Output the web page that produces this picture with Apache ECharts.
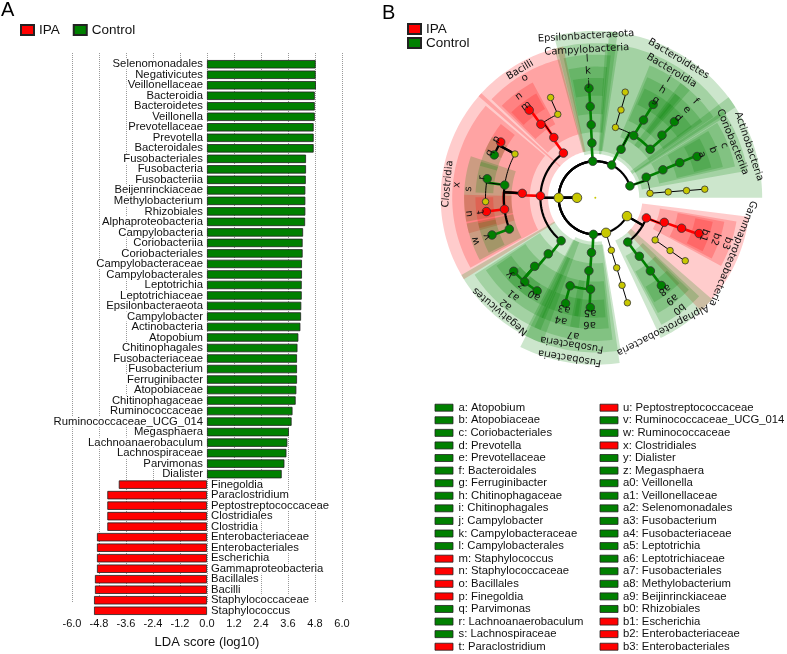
<!DOCTYPE html>
<html><head><meta charset="utf-8">
<script src="https://cdn.jsdelivr.net/npm/echarts@6/dist/echarts.min.js"></script>
<style>html,body{margin:0;padding:0;background:#fff}#c{width:787px;height:654px}</style>
</head><body><div id="c"></div>
<script>
// ---------- Panel A data ----------
const controlTaxa = ['Selenomonadales','Negativicutes','Veillonellaceae','Bacteroidia','Bacteroidetes','Veillonella','Prevotellaceae','Prevotella','Bacteroidales','Fusobacteriales','Fusobacteria','Fusobacteriia','Beijenrinckiaceae','Methylobacterium','Rhizobiales','Alphaproteobacteria','Campylobacteria','Coriobacteriia','Coriobacteriales','Campylobacteraceae','Campylobacterales','Leptotrichia','Leptotrichiaceae','Epsilonbacteraeota','Campylobacter','Actinobacteria','Atopobium','Chitinophagales','Fusobacteriaceae','Fusobacterium','Ferruginibacter','Atopobiaceae','Chitinophagaceae','Ruminococcaceae','Ruminococcaceae_UCG_014','Megasphaera','Lachnoanaerobaculum','Lachnospiraceae','Parvimonas','Dialister'];
const controlLDA = [4.83,4.83,4.84,4.79,4.79,4.79,4.74,4.74,4.74,4.40,4.40,4.39,4.37,4.37,4.37,4.36,4.27,4.25,4.25,4.22,4.22,4.21,4.21,4.19,4.18,4.15,4.06,4.02,4.00,4.00,4.00,3.97,3.94,3.80,3.76,3.64,3.57,3.53,3.44,3.32];
const ipaTaxa = ['Finegoldia','Paraclostridium','Peptostreptococcaceae','Clostridiales','Clostridia','Enterobacteriaceae','Enterobacteriales','Escherichia','Gammaproteobacteria','Bacillales','Bacilli','Staphylococcaceae','Staphylococcus'];
const ipaLDA = [-3.92,-4.43,-4.43,-4.43,-4.43,-4.89,-4.89,-4.89,-4.89,-4.98,-4.98,-5.02,-5.02];
const ldaMin = -6, ldaMax = 6, ldaStep = 1.2;

// ---------- Panel B data (cladogram) ----------
// [id, parent, level, angle(deg, clockwise from top), group, code, name]
const cladeNodes = [
 ['root',null,0,0,'N'],
 ['Bacteria','root',1,270,'N'],
 ['Firmicutes','Bacteria',2,270,'N'],
 ['Epsilonbacteraeota','Bacteria',2,356,'C'],
 ['Bacteroidetes','Bacteria',2,26.5,'C'],
 ['Actinobacteria','Bacteria',2,71,'C'],
 ['Proteobacteria','Bacteria',2,120,'N'],
 ['Phylum_x','Bacteria',2,163,'N'],
 ['Fusobacteria','Bacteria',2,183,'C'],
 ['Bacilli','Firmicutes',3,324.5,'I'],
 ['Clostridia','Firmicutes',3,272,'I'],
 ['Negativicutes','Firmicutes',3,218.5,'C'],
 ['Bacillales','Bacilli',4,325.5,'I','o','Bacillales'],
 ['Staphylococcaceae','Bacillales',5,323.5,'I','n','Staphylococcaceae'],
 ['Staphylococcus','Staphylococcaceae',6,323,'I','m','Staphylococcus'],
 ['Bacillales_f','Bacillales',5,335.8,'N'],
 ['Bacillales_g','Bacillales_f',6,336,'N'],
 ['Clostridiales','Clostridia',4,273.5,'I','x','Clostridiales'],
 ['Clostridiales_f','Clostridiales',5,298.6,'N'],
 ['Finegoldia','Clostridiales_f',6,300.5,'I','p','Finegoldia'],
 ['Parvimonas','Clostridiales_f',6,293,'C','q','Parvimonas'],
 ['Lachnospiraceae','Clostridiales',5,278,'C','s','Lachnospiraceae'],
 ['Lachnoanaerobaculum','Lachnospiraceae',6,280,'C','r','Lachnoanaerobaculum'],
 ['Lachnospiraceae_g','Lachnospiraceae',6,268,'N'],
 ['Peptostreptococcaceae','Clostridiales',5,262.8,'I','u','Peptostreptococcaceae'],
 ['Paraclostridium','Peptostreptococcaceae',6,262.8,'I','t','Paraclostridium'],
 ['Ruminococcaceae','Clostridiales',5,250,'C','w','Ruminococcaceae'],
 ['Ruminococcaceae_UCG_014','Ruminococcaceae',6,250.2,'C','v','Ruminococcaceae_UCG_014'],
 ['Selenomonadales','Negativicutes',4,220,'C','a2','Selenomonadales'],
 ['Veillonellaceae','Selenomonadales',5,221.5,'C','a1','Veillonellaceae'],
 ['Dialister','Veillonellaceae',6,228,'C','y','Dialister'],
 ['Megasphaera','Veillonellaceae',6,220,'C','z','Megasphaera'],
 ['Veillonella','Veillonellaceae',6,212,'C','a0','Veillonella'],
 ['Campylobacteria','Epsilonbacteraeota',3,356.5,'C'],
 ['Campylobacterales','Campylobacteria',4,356.8,'C','l','Campylobacterales'],
 ['Campylobacteraceae','Campylobacterales',5,356.8,'C','k','Campylobacteraceae'],
 ['Campylobacter','Campylobacteraceae',6,356.7,'C','j','Campylobacter'],
 ['Bacteroidia','Bacteroidetes',3,28,'C'],
 ['Bacteroidia_o','Bacteroidia',4,16,'N'],
 ['Bacteroidia_f','Bacteroidia_o',5,16.3,'N'],
 ['Bacteroidia_g','Bacteroidia_f',6,15.8,'N'],
 ['Chitinophagales','Bacteroidia',4,31.7,'C','i','Chitinophagales'],
 ['Chitinophagaceae','Chitinophagales',5,31.8,'C','h','Chitinophagaceae'],
 ['Ferruginibacter','Chitinophagaceae',6,31.8,'C','g','Ferruginibacter'],
 ['Bacteroidales','Bacteroidia',4,48.5,'C','f','Bacteroidales'],
 ['Prevotellaceae','Bacteroidales',5,46.8,'C','e','Prevotellaceae'],
 ['Prevotella','Prevotellaceae',6,46.1,'C','d','Prevotella'],
 ['Coriobacteriia','Actinobacteria',3,68,'C'],
 ['Coriobacteriales','Coriobacteriia',4,67.5,'C','c','Coriobacteriales'],
 ['Atopobiaceae','Coriobacteriales',5,67.4,'C','b','Atopobiaceae'],
 ['Atopobium','Atopobiaceae',6,67.9,'C','a','Atopobium'],
 ['Actino_c','Actinobacteria',3,85.3,'N'],
 ['Actino_o','Actino_c',4,85.4,'N'],
 ['Actino_f','Actino_o',5,85.5,'N'],
 ['Actino_g','Actino_f',6,85.5,'N'],
 ['Gammaproteobacteria','Proteobacteria',3,111.5,'I'],
 ['Enterobacteriales','Gammaproteobacteria',4,109.6,'I','b3','Enterobacteriales'],
 ['Enterobacteriaceae','Enterobacteriales',5,109.4,'I','b2','Enterobacteriaceae'],
 ['Escherichia','Enterobacteriaceae',6,109,'I','b1','Escherichia'],
 ['Gamma_o','Gammaproteobacteria',4,125.2,'N'],
 ['Gamma_f','Gamma_o',5,125.2,'N'],
 ['Gamma_g','Gamma_f',6,125,'N'],
 ['Alphaproteobacteria','Proteobacteria',3,143.8,'C'],
 ['Rhizobiales','Alphaproteobacteria',4,143,'C','b0','Rhizobiales'],
 ['Beijerinckiaceae','Rhizobiales',5,143,'C','a9','Beijinrinckiaceae'],
 ['Methylobacterium','Beijerinckiaceae',6,143,'C','a8','Methylobacterium'],
 ['Px_c','Phylum_x',3,163,'N'],
 ['Px_o','Px_c',4,163,'N'],
 ['Px_f','Px_o',5,163,'N'],
 ['Px_g','Px_f',6,163,'N'],
 ['Fusobacteriia','Fusobacteria',3,184,'C'],
 ['Fusobacteriales','Fusobacteriia',4,185,'C','a7','Fusobacteriales'],
 ['Leptotrichiaceae','Fusobacteriales',5,183,'C','a6','Leptotrichiaceae'],
 ['Leptotrichia','Leptotrichiaceae',6,182.6,'C','a5','Leptotrichia'],
 ['Fusobacteriaceae','Fusobacteriales',5,196,'C','a4','Fusobacteriaceae'],
 ['Fusobacterium','Fusobacteriaceae',6,195.7,'C','a3','Fusobacterium']
];
// text shown for class / phylum biomarkers
const cladeTitles = {Epsilonbacteraeota:'Epsilonbacteraeota',Campylobacteria:'Campylobacteria',Bacteroidetes:'Bacteroidetes',Bacteroidia:'Bacteroidia',Actinobacteria:'Actinobacteria',Coriobacteriia:'Coriobacteriia',Bacilli:'Bacilli',Clostridia:'Clostridia',Negativicutes:'Negativicutes',Fusobacteria:'Fusobacteria',Fusobacteriia:'Fusobacteria',Gammaproteobacteria:'Gammaproteobacteria',Alphaproteobacteria:'Alphaproteobacteria'};

// ---------- styles / layout ----------
const GREEN = '#008000', RED = '#ff0000', YELLOW = '#c8c800';
const SANS = 'Liberation Sans, Arial, Helvetica, sans-serif';
const CLAD_FONT = 'DejaVu Sans, Verdana, sans-serif';
const groupColor = {C: GREEN, I: RED, N: YELLOW};
const wedgeFill = {C: 'rgba(0,128,0,0.2)', I: 'rgba(255,0,0,0.2)'};
const wedgeOuter = {2: 9.12, 3: 8.45, 4: 7.82, 5: 7.17, 6: 6.55};
const wedgePad = {2: 11, 3: 12, 4: 9.5, 5: 8.5, 6: 7.5};
const wedgeSpanOverride = {Actinobacteria: [53, 90]};
const textR = {2: 8.85, 3: 8.1, 4: 7.6, 5: 6.94, 6: 6.28};
const titleShift = {Gammaproteobacteria: -5, Alphaproteobacteria: 10};

// ---------- tree helpers ----------
const byId = {};
cladeNodes.forEach((n, i) => { byId[n[0]] = {id:n[0], parent:n[1], level:n[2], angle:n[3], group:n[4], code:n[5]||'', name:n[6]||'', idx:i, children:[]}; });
Object.values(byId).forEach(n => { if (n.parent) byId[n.parent].children.push(n); });
function leafAngles(n) { return n.children.length ? n.children.flatMap(leafAngles) : [n.angle]; }
const norm = a => ((a % 360) + 360) % 360;

// wedges
const wedges = [];
Object.values(byId).filter(n => n.group !== 'N' && n.level >= 2).sort((a,b)=>a.level-b.level).forEach(n => {
  const la = leafAngles(n);
  let lo = Math.min(...la) - wedgePad[n.level], hi = Math.max(...la) + wedgePad[n.level];
  if (wedgeSpanOverride[n.id]) [lo, hi] = wedgeSpanOverride[n.id];
  wedges.push({node:n, inner: Math.max(n.level - 0.42, 2.4), outer: wedgeOuter[n.level], a0: lo, a1: hi});
});
// labels
const labels = [];
wedges.forEach(w => {
  const n = w.node; const mid = (w.a0 + w.a1) / 2;
  if (n.code) labels.push({text:n.code, r:textR[n.level], a:mid, size:10});
  else labels.push({text:cladeTitles[n.id], r:textR[n.level], a:mid + (titleShift[n.id]||0), size:10});
});
// edges
const edges = [];
Object.values(byId).forEach(n => {
  if (!n.parent || n.parent === 'root') return;
  const p = byId[n.parent];
  const colored = n.group !== 'N' && n.group === p.group;
  edges.push({p, c:n, color: colored ? groupColor[n.group] : '#000',
    width: colored ? 2.6 : ((n.group !== 'N' || n.level <= 2) ? 2.2 : 1), colored});
});
edges.sort((a,b) => (b.colored?1:0) - (a.colored?1:0));

function arcPts(api, r, a0, a1) {
  let d = a1 - a0;
  while (d > 180) d -= 360;
  while (d < -180) d += 360;
  const n = Math.max(1, Math.ceil(Math.abs(d) / 1.5));
  const pts = [];
  for (let i = 0; i <= n; i++) pts.push(api.coord([r, norm(a0 + d * i / n)]));
  return pts;
}
function arcPtsDirect(api, r, a0, a1) {
  const n = Math.max(1, Math.ceil(Math.abs(a1 - a0) / 1.5));
  const pts = [];
  for (let i = 0; i <= n; i++) pts.push(api.coord([r, norm(a0 + (a1 - a0) * i / n)]));
  return pts;
}

// ---------- bottom legend ----------
const coded = Object.values(byId).filter(n => n.code).sort((a,b) => a.code.length - b.code.length || (a.code < b.code ? -1 : 1));
const legendEls = [];
coded.forEach((n, i) => {
  const col = i < 20 ? 0 : 1, row = i % 20;
  const bx = col ? 600 : 435, tx = col ? 623 : 458.5, cy = 407.7 + row * 12.58;
  legendEls.push({type:'rect', shape:{x:bx, y:cy - 3.5, width:18, height:7}, style:{fill: groupColor[n.group], stroke:'#222', lineWidth:0.8}});
  legendEls.push({type:'text', x:tx, y:cy, style:{text: n.code + ': ' + n.name, fill:'#111', font:'11.3px ' + SANS, textAlign:'left', textVerticalAlign:'middle', align:'left', verticalAlign:'middle'}});
});

// ---------- chart ----------
const categories = controlTaxa.concat(ipaTaxa);
const controlData = controlLDA.concat(ipaTaxa.map(() => '-'));
const ipaData = controlTaxa.map(() => '-').concat(ipaLDA);

const barLabel = pos => ({show:true, position:pos, distance:3, formatter:'{b}', color:'#111', fontSize:11.3, fontFamily:SANS,
  backgroundColor:'#fff', padding:[0,1], lineHeight:10});

const chart = echarts.init(document.getElementById('c'));
chart.setOption({
  animation:false,
  backgroundColor:'#fff',
  title:[
    {text:'A', left:1, top:0, padding:0, textStyle:{fontSize:20, fontWeight:'normal', fontFamily:SANS, color:'#000'}},
    {text:'B', left:382, top:3, padding:0, textStyle:{fontSize:20, fontWeight:'normal', fontFamily:SANS, color:'#000'}}
  ],
  legend:[
    {data:['IPA','Control'], left:20, top:23, orient:'horizontal', icon:'rect', itemWidth:13, itemHeight:10, itemGap:13, padding:0,
     textStyle:{fontSize:13.5, fontFamily:SANS, color:'#111'}, selectedMode:false},
    {data:['IPA','Control'], left:407, top:22, orient:'vertical', icon:'rect', itemWidth:13, itemHeight:10, itemGap:0, padding:0,
     textStyle:{fontSize:13.5, fontFamily:SANS, color:'#111', lineHeight:14}, selectedMode:false}
  ],
  grid:[
    {left:72, width:270, top:53, height:563},
    {left:72, width:270, top:59, height:557}
  ],
  xAxis:[
    {gridIndex:0, type:'value', min:ldaMin, max:ldaMax, interval:ldaStep,
     axisLine:{show:false}, axisTick:{show:false},
     splitLine:{show:true, lineStyle:{type:'dotted', color:'#999', width:1}},
     axisLabel:{margin:16, fontSize:11, fontFamily:SANS, color:'#111', formatter: v => (Math.abs(v) < 1e-9 ? 0 : v).toFixed(1)},
     name:'LDA score (log10)', nameLocation:'middle', nameGap:34, nameTextStyle:{fontSize:13, fontFamily:SANS, color:'#111'}},
    {gridIndex:1, type:'value', min:ldaMin, max:ldaMax, show:false}
  ],
  yAxis:[
    {gridIndex:0, type:'value', show:false},
    {gridIndex:1, type:'category', data:categories, inverse:true, show:false}
  ],
  polar:{center:[595.3, 197.8], radius:[0, 183]},
  angleAxis:{type:'value', min:0, max:360, startAngle:90, clockwise:true, show:false},
  radiusAxis:{type:'value', min:0, max:10, show:false},
  graphic:{elements: legendEls},
  series:[
    {name:'Control', type:'bar', xAxisIndex:1, yAxisIndex:1, data:controlData, barWidth:'80%', barGap:'-100%',
     itemStyle:{color:GREEN, borderColor:'#222', borderWidth:0.8}, label:barLabel('left')},
    {name:'IPA', type:'bar', xAxisIndex:1, yAxisIndex:1, data:ipaData, barWidth:'80%', barGap:'-100%',
     itemStyle:{color:RED, borderColor:'#222', borderWidth:0.8}, label:barLabel('right')},
    {name:'wedges', type:'custom', coordinateSystem:'polar', silent:true, z:1,
     data: wedges.map((w,i) => [w.inner, w.a0, w.outer, w.a1, i]),
     renderItem:(params, api) => {
       const w = wedges[api.value(4)];
       const pts = arcPtsDirect(api, w.outer, w.a0, w.a1).concat(arcPtsDirect(api, w.inner, w.a1, w.a0));
       return {type:'polygon', shape:{points:pts}, style:{fill: wedgeFill[w.node.group], stroke:null}};
     }},
    {name:'edges', type:'custom', coordinateSystem:'polar', silent:true, z:2,
     data: edges.map((e,i) => [e.p.level, e.p.angle, e.c.level, e.c.angle, i]),
     renderItem:(params, api) => {
       const e = edges[api.value(4)];
       const pts = [api.coord([e.p.level, e.p.angle])].concat(arcPts(api, e.c.level, e.p.angle, e.c.angle));
       return {type:'polyline', shape:{points:pts}, style:{stroke:e.color, lineWidth:e.width, fill:null, lineJoin:'round'}};
     }},
    {name:'nodes', type:'scatter', coordinateSystem:'polar', silent:true, z:3,
     data: Object.values(byId).map(n => ({value:[n.level, n.angle],
       symbolSize: n.level === 0 ? 2 : (n.group !== 'N' ? 8.5 : (n.level <= 2 ? 9.5 : 6.5)),
       itemStyle:{color: groupColor[n.group], borderColor:'#333', borderWidth: n.level === 0 ? 0 : 0.8, opacity:1}}))},
    {name:'labels', type:'custom', coordinateSystem:'polar', silent:true, z:4,
     data: labels.map((l,i) => [l.r, l.a, i]),
     renderItem:(params, api) => {
       const l = labels[api.value(2)];
       const p = api.coord([l.r, norm(l.a)]);
       const p1 = api.coord([l.r, norm(l.a - 0.5)]), p2 = api.coord([l.r, norm(l.a + 0.5)]);
       const rot = Math.atan2(-(p2[1] - p1[1]), p2[0] - p1[0]);
       return {type:'text', x:p[0], y:p[1], rotation:rot,
         style:{text:l.text, fill:'#111', fontSize:l.size, fontFamily:CLAD_FONT, align:'center', verticalAlign:'middle', textAlign:'center', textVerticalAlign:'middle'}};
     }}
  ]
});
</script></body></html>
